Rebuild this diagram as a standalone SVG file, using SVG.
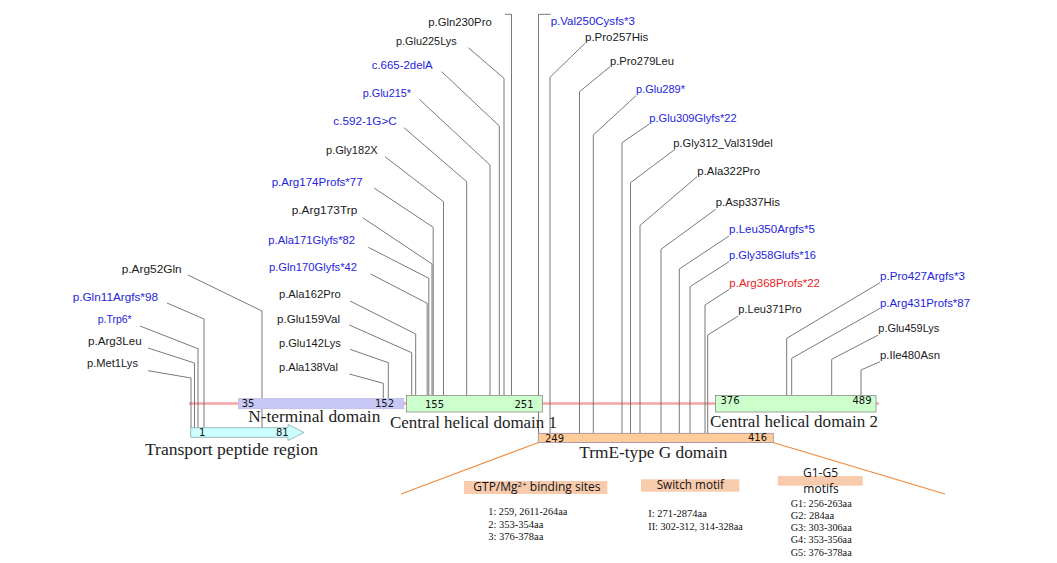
<svg xmlns="http://www.w3.org/2000/svg" width="1057" height="563" viewBox="0 0 1057 563">
<style>
.lbl{font-family:"Liberation Sans",Arial,sans-serif;font-size:11px}
.k{fill:#1a1a1a}.b{fill:#2424dc}.r{fill:#e82424}
.ld{fill:none;stroke:#6a6a6a;stroke-width:0.9}
.dom{font-family:"Liberation Serif","Times New Roman",serif;font-size:16px;fill:#222}
.num{font-family:"DejaVu Sans",sans-serif;font-size:10px;fill:#111}
.hdr{font-family:"Open Sans","Noto Sans",sans-serif;font-size:12px;fill:#111}
.lst{font-family:"Liberation Serif","Times New Roman",serif;font-size:10.5px;fill:#111}
.peach{fill:#f8cbad}
.or{stroke:#f08a3c;stroke-width:1.2;fill:none}
</style>
<rect width="1057" height="563" fill="#fff"/>
<g id="connectors">
<line x1="189" y1="403.5" x2="879" y2="403.5" stroke="#f4a4a4" stroke-width="2.5"/>
<polyline class="ld" points="148,370.7 191,378 191,428"/>
<polyline class="ld" points="148,348 194.5,363 194.5,428"/>
<polyline class="ld" points="140,326 198,348.7 198,428"/>
<polyline class="ld" points="167,303 204,319 204,428"/>
<polyline class="ld" points="188,275 262,311 262,428"/>
<polyline class="ld" points="349.3,374 383.3,383.3 383.3,398"/>
<polyline class="ld" points="350,349.3 388.3,362.7 388.3,398"/>
<polyline class="ld" points="349.3,325 411.7,352.7 411.7,395"/>
<polyline class="ld" points="350,301 415.7,334 415.7,395"/>
<polyline class="ld" points="370.7,274 427.2,303.3 427.2,395"/>
<polyline class="ld" points="368.3,247.3 428.8,278.3 428.8,395"/>
<polyline class="ld" points="362.7,217.7 432,264 432,395"/>
<polyline class="ld" points="374,188 433.2,227.3 433.2,395"/>
<polyline class="ld" points="385,156.7 443.5,201.7 443.5,395"/>
<polyline class="ld" points="404,127.7 466.7,181.7 466.7,395"/>
<polyline class="ld" points="419.3,99.3 490,165 490,395"/>
<polyline class="ld" points="441.7,71.7 499.3,126 499.3,395"/>
<polyline class="ld" points="468.3,47.7 504,78.3 504,395"/>
<polyline class="ld" points="505,14.3 511.5,14.3 511.5,395"/>
<polyline class="ld" points="550.7,14.3 538.5,14.3 538.5,433"/>
<polyline class="ld" points="585,43.3 550,77.3 550,433"/>
<polyline class="ld" points="610,66.7 579.5,91.7 579.5,433"/>
<polyline class="ld" points="636,95.7 593.3,135 593.3,433"/>
<polyline class="ld" points="649.3,124 622,142.7 622,433"/>
<polyline class="ld" points="675,149.3 630.5,182.7 630.5,433"/>
<polyline class="ld" points="697,176.7 640,225.5 640,433"/>
<polyline class="ld" points="715.7,209.3 661,249.3 661,433"/>
<polyline class="ld" points="729,236 679.3,269 679.3,433"/>
<polyline class="ld" points="729,261.7 690,286.7 690,433"/>
<polyline class="ld" points="729.3,289.3 705,305 705,433"/>
<polyline class="ld" points="738.3,316 707.7,335 707.7,433"/>
<polyline class="ld" points="880,282.7 786.7,338.3 786.7,395"/>
<polyline class="ld" points="880,308.3 791.7,358.3 791.7,395"/>
<polyline class="ld" points="878.3,335 831.7,359.3 831.7,395"/>
<polyline class="ld" points="880,361.7 861,370 861,395"/>
<line class="or" x1="538.5" y1="442.5" x2="401" y2="494"/>
<line class="or" x1="773" y1="442.5" x2="945" y2="494"/>
</g>
<g id="transport">
<polygon points="190.7,427.7 288,427.7 288,424.5 304,432.5 288,440.5 288,437.3 190.7,437.3" fill="#ccffff" stroke="#88a8b0" stroke-width="0.8"/>
<text class="num" x="199" y="436">1</text>
<text class="num" x="276" y="436">81</text>
<text class="dom" x="145" y="455" textLength="173" lengthAdjust="spacingAndGlyphs">Transport peptide region</text>
</g>
<g id="nterm">
<rect x="238.3" y="398.3" width="165.5" height="10.5" fill="#c8c8f6" stroke="#b8b8e0" stroke-width="0.6"/>
<text class="num" x="241.7" y="407">35</text>
<text class="num" x="375" y="407">152</text>
<text class="dom" x="248.3" y="421.7" textLength="132" lengthAdjust="spacingAndGlyphs">N-terminal domain</text>
</g>
<g id="chd1">
<rect x="406.5" y="395.5" width="136" height="16.5" fill="#ccffcc" stroke="#8c8c8c" stroke-width="0.8"/>
<text class="num" x="425" y="407.5">155</text>
<text class="num" x="514.5" y="407.5">251</text>
<text class="dom" x="390" y="428.3" textLength="167" lengthAdjust="spacingAndGlyphs">Central helical domain 1</text>
</g>
<g id="chd2">
<rect x="715.5" y="395.5" width="160.5" height="16.5" fill="#ccffcc" stroke="#8c8c8c" stroke-width="0.8"/>
<text class="num" x="720.5" y="404">376</text>
<text class="num" x="852.5" y="404">489</text>
<text class="dom" x="710" y="426.7" textLength="168" lengthAdjust="spacingAndGlyphs">Central helical domain 2</text>
</g>
<g id="trme">
<rect x="538.3" y="433.3" width="235" height="9.2" fill="#ffcc99" stroke="#9a8aa0" stroke-width="0.8"/>
<text class="num" x="545" y="442">249</text>
<text class="num" x="748" y="440.5">416</text>
<text class="dom" x="579.3" y="457.7" textLength="148" lengthAdjust="spacingAndGlyphs">TrmE-type G domain</text>
</g>
<g id="m-Met1Lys"><text class="lbl k" x="87" y="367" textLength="51" lengthAdjust="spacingAndGlyphs">p.Met1Lys</text></g>
<g id="m-Arg3Leu"><text class="lbl k" x="88" y="345" textLength="53.7" lengthAdjust="spacingAndGlyphs">p.Arg3Leu</text></g>
<g id="m-Trp6"><text class="lbl b" x="97.7" y="323" textLength="34" lengthAdjust="spacingAndGlyphs">p.Trp6*</text></g>
<g id="m-Gln11"><text class="lbl b" x="72.7" y="300.7" textLength="85.3" lengthAdjust="spacingAndGlyphs">p.Gln11Argfs*98</text></g>
<g id="m-Arg52Gln"><text class="lbl k" x="121.7" y="272.7" textLength="60" lengthAdjust="spacingAndGlyphs">p.Arg52Gln</text></g>
<g id="m-Ala138Val"><text class="lbl k" x="279" y="370.7" textLength="59" lengthAdjust="spacingAndGlyphs">p.Ala138Val</text></g>
<g id="m-Glu142Lys"><text class="lbl k" x="279" y="346.7" textLength="61.7" lengthAdjust="spacingAndGlyphs">p.Glu142Lys</text></g>
<g id="m-Glu159Val"><text class="lbl k" x="277" y="323" textLength="63" lengthAdjust="spacingAndGlyphs">p.Glu159Val</text></g>
<g id="m-Ala162Pro"><text class="lbl k" x="279" y="297.7" textLength="61.7" lengthAdjust="spacingAndGlyphs">p.Ala162Pro</text></g>
<g id="m-Gln170"><text class="lbl b" x="269" y="270.7" textLength="88" lengthAdjust="spacingAndGlyphs">p.Gln170Glyfs*42</text></g>
<g id="m-Ala171"><text class="lbl b" x="268.3" y="244" textLength="86.7" lengthAdjust="spacingAndGlyphs">p.Ala171Glyfs*82</text></g>
<g id="m-Arg173Trp"><text class="lbl k" x="291.7" y="214.3" textLength="65.6" lengthAdjust="spacingAndGlyphs">p.Arg173Trp</text></g>
<g id="m-Arg174"><text class="lbl b" x="271.7" y="185.7" textLength="91" lengthAdjust="spacingAndGlyphs">p.Arg174Profs*77</text></g>
<g id="m-Gly182X"><text class="lbl k" x="326" y="154" textLength="51.7" lengthAdjust="spacingAndGlyphs">p.Gly182X</text></g>
<g id="m-c592"><text class="lbl b" x="333.3" y="125" textLength="63.4" lengthAdjust="spacingAndGlyphs">c.592-1G&gt;C</text></g>
<g id="m-Glu215"><text class="lbl b" x="362.7" y="97.3" textLength="48.3" lengthAdjust="spacingAndGlyphs">p.Glu215*</text></g>
<g id="m-c665"><text class="lbl b" x="371.7" y="69" textLength="61" lengthAdjust="spacingAndGlyphs">c.665-2delA</text></g>
<g id="m-Glu225Lys"><text class="lbl k" x="396" y="45" textLength="60.7" lengthAdjust="spacingAndGlyphs">p.Glu225Lys</text></g>
<g id="m-Gln230Pro"><text class="lbl k" x="428.3" y="25.7" textLength="63.4" lengthAdjust="spacingAndGlyphs">p.Gln230Pro</text></g>
<g id="m-Val250"><text class="lbl b" x="550.7" y="25" textLength="84.3" lengthAdjust="spacingAndGlyphs">p.Val250Cysfs*3</text></g>
<g id="m-Pro257His"><text class="lbl k" x="585" y="41" textLength="63.3" lengthAdjust="spacingAndGlyphs">p.Pro257His</text></g>
<g id="m-Pro279Leu"><text class="lbl k" x="610" y="65" textLength="64" lengthAdjust="spacingAndGlyphs">p.Pro279Leu</text></g>
<g id="m-Glu289"><text class="lbl b" x="636" y="93.3" textLength="49" lengthAdjust="spacingAndGlyphs">p.Glu289*</text></g>
<g id="m-Glu309"><text class="lbl b" x="649.3" y="121.7" textLength="87.4" lengthAdjust="spacingAndGlyphs">p.Glu309Glyfs*22</text></g>
<g id="m-Gly312"><text class="lbl k" x="673.3" y="146.7" textLength="99.4" lengthAdjust="spacingAndGlyphs">p.Gly312_Val319del</text></g>
<g id="m-Ala322Pro"><text class="lbl k" x="697.3" y="175" textLength="62.7" lengthAdjust="spacingAndGlyphs">p.Ala322Pro</text></g>
<g id="m-Asp337His"><text class="lbl k" x="715.7" y="205.7" textLength="64.3" lengthAdjust="spacingAndGlyphs">p.Asp337His</text></g>
<g id="m-Leu350"><text class="lbl b" x="729" y="233.3" textLength="86" lengthAdjust="spacingAndGlyphs">p.Leu350Argfs*5</text></g>
<g id="m-Gly358"><text class="lbl b" x="729" y="259.3" textLength="87" lengthAdjust="spacingAndGlyphs">p.Gly358Glufs*16</text></g>
<g id="m-Arg368"><text class="lbl r" x="729.3" y="287.3" textLength="90.7" lengthAdjust="spacingAndGlyphs">p.Arg368Profs*22</text></g>
<g id="m-Leu371Pro"><text class="lbl k" x="738.3" y="313.3" textLength="63.4" lengthAdjust="spacingAndGlyphs">p.Leu371Pro</text></g>
<g id="m-Pro427"><text class="lbl b" x="880" y="280" textLength="85" lengthAdjust="spacingAndGlyphs">p.Pro427Argfs*3</text></g>
<g id="m-Arg431"><text class="lbl b" x="880" y="306.7" textLength="90" lengthAdjust="spacingAndGlyphs">p.Arg431Profs*87</text></g>
<g id="m-Glu459Lys"><text class="lbl k" x="878.3" y="332.3" textLength="61" lengthAdjust="spacingAndGlyphs">p.Glu459Lys</text></g>
<g id="m-Ile480Asn"><text class="lbl k" x="880" y="359" textLength="60" lengthAdjust="spacingAndGlyphs">p.Ile480Asn</text></g>
<g id="gtp">
<rect class="peach" x="464" y="481" width="143.3" height="13"/>
<text class="hdr" x="473.3" y="491">GTP/Mg<tspan font-size="8" dy="-4">2+</tspan><tspan dy="4"> binding sites</tspan></text>
<text class="lst" x="488.3" y="515" textLength="79" lengthAdjust="spacingAndGlyphs">1: 259, 2611-264aa</text>
<text class="lst" x="488.3" y="527.7">2: 353-354aa</text>
<text class="lst" x="488.3" y="540">3: 376-378aa</text>
</g>
<g id="switch">
<rect class="peach" x="641" y="479.3" width="98.3" height="12.4"/>
<text class="hdr" x="656.7" y="489" textLength="67.3" lengthAdjust="spacingAndGlyphs">Switch motif</text>
<text class="lst" x="648.3" y="516.7">I: 271-2874aa</text>
<text class="lst" x="648.3" y="530" textLength="94.4" lengthAdjust="spacingAndGlyphs">II: 302-312, 314-328aa</text>
</g>
<g id="gmotifs">
<rect class="peach" x="777.7" y="476" width="85" height="9.7"/>
<text class="hdr" x="820.5" y="476.5" text-anchor="middle" font-size="11.5">G1-G5</text>
<text class="hdr" x="821" y="492.5" text-anchor="middle" font-size="11.5">motifs</text>
<text class="lst" x="790.7" y="506.7" textLength="61" lengthAdjust="spacingAndGlyphs">G1: 256-263aa</text>
<text class="lst" x="790.7" y="519">G2: 284aa</text>
<text class="lst" x="790.7" y="531" textLength="61" lengthAdjust="spacingAndGlyphs">G3: 303-306aa</text>
<text class="lst" x="790.7" y="543.3" textLength="61" lengthAdjust="spacingAndGlyphs">G4: 353-356aa</text>
<text class="lst" x="790.7" y="555.7" textLength="61" lengthAdjust="spacingAndGlyphs">G5: 376-378aa</text>
</g>
</svg>
